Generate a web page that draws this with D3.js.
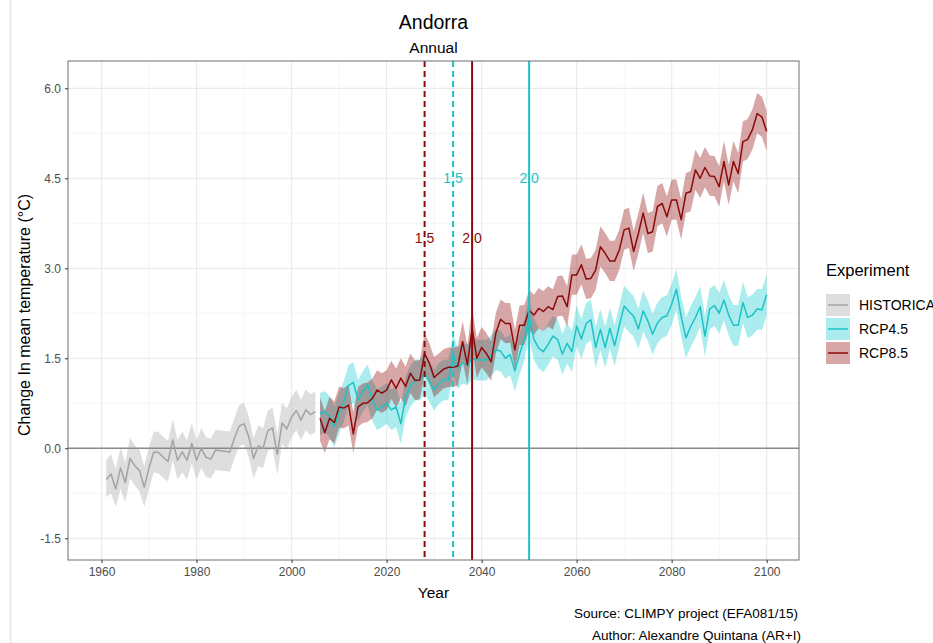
<!DOCTYPE html>
<html><head><meta charset="utf-8">
<script src="https://cdn.jsdelivr.net/npm/d3@7"></script>
<style>body{margin:0;background:#fff;}svg{display:block;font-family:"Liberation Sans",Arial,Helvetica,sans-serif;}</style>
</head><body>
<svg id="c" width="933" height="643"></svg>
<script>
// ---------- DATA ----------
const histYears = d3.range(1961, 2006);
const histMean = [-0.52,-0.43,-0.68,-0.33,-0.57,-0.17,-0.29,-0.37,-0.65,-0.33,-0.06,-0.07,-0.15,-0.22,0.14,-0.20,-0.06,-0.20,0.08,-0.20,0.00,-0.15,-0.18,-0.03,-0.04,-0.05,-0.06,0.17,0.37,0.41,0.19,-0.17,0.04,0.00,0.29,0.34,-0.10,0.42,0.32,0.52,0.63,0.47,0.64,0.56,0.61];
const histLo = [-0.82,-0.75,-0.98,-0.68,-0.90,-0.50,-0.62,-0.72,-0.98,-0.68,-0.40,-0.42,-0.50,-0.55,-0.20,-0.52,-0.40,-0.52,-0.25,-0.52,-0.33,-0.48,-0.50,-0.36,-0.37,-0.38,-0.39,-0.16,0.03,0.07,-0.15,-0.50,-0.30,-0.33,-0.05,0.00,-0.44,0.08,-0.02,0.18,0.30,0.14,0.30,0.22,0.27];
const histHi = [-0.20,-0.10,-0.35,0.02,-0.24,0.18,0.05,-0.03,-0.30,0.02,0.28,0.27,0.19,0.12,0.48,0.14,0.28,0.14,0.42,0.14,0.34,0.19,0.16,0.31,0.30,0.29,0.28,0.51,0.72,0.76,0.53,0.17,0.38,0.34,0.63,0.68,0.24,0.76,0.66,0.86,0.97,0.81,0.98,0.90,0.95];

const rcpYears = d3.range(2006, 2101);
const rcp45Mean = [0.58,0.61,0.53,0.36,0.58,0.78,1.05,1.10,0.80,0.95,
  1.06,0.80,0.64,0.69,0.75,0.64,0.69,0.41,0.86,1.03,
  1.14,1.14,1.25,1.11,0.97,1.08,1.14,1.14,1.56,1.33,
  1.42,1.39,1.50,1.47,1.47,1.47,1.55,1.64,1.62,1.50,
  1.56,1.29,1.57,1.82,2.18,1.82,1.67,1.61,1.73,1.87,
  1.81,1.57,1.75,1.61,2.04,1.82,2.08,2.14,1.68,1.98,
  1.68,2.00,1.71,2.05,2.37,2.28,2.20,1.99,2.29,2.12,
  1.90,2.09,2.18,2.21,2.40,2.65,2.20,1.84,2.03,2.18,
  2.36,1.87,2.32,2.38,2.25,2.47,2.22,2.05,2.05,2.43,
  2.18,2.22,2.32,2.31,2.56];
const rcp45Lo = [0.22,0.27,0.19,0.02,0.24,0.44,0.71,0.76,0.46,0.61,
  0.72,0.46,0.30,0.35,0.41,0.30,0.35,0.07,0.52,0.69,
  0.80,0.80,0.91,0.77,0.63,0.74,0.80,0.80,1.22,0.99,
  1.08,1.05,1.16,1.13,1.13,1.13,1.21,1.30,1.28,1.16,
  1.22,0.95,1.23,1.48,1.84,1.48,1.33,1.27,1.39,1.53,
  1.47,1.23,1.41,1.27,1.70,1.48,1.74,1.80,1.34,1.64,
  1.34,1.66,1.37,1.71,2.03,1.94,1.86,1.65,1.95,1.78,
  1.56,1.75,1.84,1.87,2.06,2.31,1.86,1.50,1.69,1.84,
  2.02,1.53,1.98,2.04,1.91,2.13,1.88,1.71,1.71,2.09,
  1.84,1.88,1.98,1.97,2.22];
const rcp45Hi = [0.92,0.95,0.87,0.70,0.92,1.12,1.39,1.44,1.14,1.29,
  1.40,1.14,0.98,1.03,1.09,0.98,1.03,0.75,1.20,1.37,
  1.48,1.48,1.59,1.45,1.31,1.42,1.48,1.48,1.90,1.67,
  1.76,1.73,1.84,1.81,1.81,1.81,1.89,1.98,1.96,1.84,
  1.90,1.63,1.91,2.16,2.52,2.16,2.01,1.95,2.07,2.21,
  2.15,1.91,2.09,1.95,2.38,2.16,2.42,2.48,2.02,2.32,
  2.02,2.34,2.05,2.39,2.71,2.62,2.54,2.33,2.63,2.46,
  2.24,2.43,2.52,2.55,2.74,2.99,2.54,2.18,2.37,2.52,
  2.70,2.21,2.66,2.72,2.59,2.81,2.56,2.39,2.39,2.77,
  2.52,2.56,2.66,2.65,2.90];

const rcp85Mean = [0.50,0.26,0.50,0.43,0.69,0.67,0.72,0.24,0.69,0.75,
  0.76,0.83,0.97,0.92,0.97,1.14,1.00,1.17,1.03,1.25,
  1.13,1.14,1.58,1.42,1.18,1.25,1.32,1.35,1.35,1.37,
  1.78,1.39,2.00,1.50,1.68,1.58,1.44,1.92,2.15,2.08,
  2.08,1.64,2.05,2.05,2.30,2.22,2.33,2.28,2.36,2.31,
  2.53,2.54,2.36,2.89,2.89,3.06,2.82,2.83,2.97,3.36,
  3.25,3.12,3.12,3.31,3.64,3.67,3.28,3.58,3.92,3.58,
  3.61,4.03,4.08,3.86,4.14,4.14,3.81,4.25,4.28,4.64,
  4.50,4.68,4.54,4.53,4.36,4.78,4.39,4.78,4.58,5.11,
  5.15,5.31,5.58,5.52,5.28];
const rcp85Lo = [0.12,-0.08,0.15,0.08,0.35,0.33,0.38,-0.08,0.36,0.42,
  0.44,0.50,0.64,0.59,0.64,0.82,0.68,0.84,0.70,0.92,
  0.80,0.82,1.24,1.08,0.85,0.92,1.00,1.02,1.03,1.04,
  1.45,1.06,1.66,1.17,1.35,1.25,1.12,1.58,1.82,1.75,
  1.76,1.31,1.72,1.72,1.97,1.89,2.00,1.95,2.03,1.98,
  2.20,2.21,2.03,2.56,2.56,2.73,2.49,2.50,2.64,3.03,
  2.92,2.79,2.79,2.98,3.31,3.34,2.95,3.25,3.59,3.25,
  3.28,3.70,3.75,3.53,3.81,3.81,3.48,3.92,3.95,4.31,
  4.17,4.35,4.21,4.20,4.03,4.45,4.06,4.45,4.25,4.78,
  4.82,4.98,5.25,5.19,4.95];
const rcp85Hi = [0.85,0.62,0.86,0.78,1.03,1.00,1.06,0.60,1.02,1.08,
  1.10,1.16,1.30,1.25,1.30,1.46,1.33,1.50,1.36,1.58,
  1.46,1.47,1.92,1.75,1.52,1.58,1.65,1.68,1.68,1.70,
  2.12,1.72,2.34,1.84,2.02,1.92,1.78,2.26,2.48,2.42,
  2.42,1.98,2.38,2.39,2.64,2.56,2.67,2.62,2.70,2.65,
  2.87,2.88,2.70,3.23,3.23,3.40,3.16,3.17,3.31,3.70,
  3.59,3.46,3.46,3.65,3.98,4.01,3.62,3.92,4.26,3.92,
  3.95,4.37,4.42,4.20,4.48,4.48,4.15,4.59,4.62,4.98,
  4.84,5.02,4.88,4.87,4.70,5.12,4.73,5.12,4.92,5.45,
  5.49,5.65,5.92,5.86,5.62];

const xTicks = [1960, 1980, 2000, 2020, 2040, 2060, 2080, 2100];
const yTicks = [-1.5, 0.0, 1.5, 3.0, 4.5, 6.0];
const thresholdYears = [2028, 2038, 2034, 2050];
const thresholdLabels = ["1.5", "2.0", "1.5", "2.0"];
const thresholdSeries = ["RCP8.5", "RCP8.5", "RCP4.5", "RCP4.5"];
const legendNames = ["HISTORICAL", "RCP4.5", "RCP8.5"];

// ---------- STYLE ----------
const lineCol = {"HISTORICAL": "#a3a3a3", "RCP4.5": "#1cc3c6", "RCP8.5": "#8b0a0a"};
const fillCol = {"HISTORICAL": "#bdbdbd", "RCP4.5": "#16cdd0", "RCP8.5": "#8b0000"};
const fillOp = {"HISTORICAL": 0.5, "RCP4.5": 0.36, "RCP8.5": 0.35};
const labelY = {"RCP8.5": 3.5, "RCP4.5": 4.5};
const FONT = "Liberation Sans, Arial, Helvetica, sans-serif";

const svg = d3.select("#c");
const L = 68, R = 799, T = 61, B = 560;
const x = d3.scaleLinear().domain([1952.95, 2106.8]).range([L, R]);
const y = d3.scaleLinear().domain([-1.862, 6.455]).range([B, T]);

// faint outer frame line on left
svg.append("line").attr("x1", 10.5).attr("x2", 10.5).attr("y1", 0).attr("y2", 643)
  .attr("stroke", "#e3e3e3").attr("stroke-width", 1.5);

// panel background
svg.append("rect").attr("x", L).attr("y", T).attr("width", R - L).attr("height", B - T).attr("fill", "#fff");

// grid
const g = svg.append("g");
const minorX = d3.range(1970, 2101, 20);
const minorY = [-0.75, 0.75, 2.25, 3.75, 5.25];
g.selectAll(".mx").data(minorX).enter().append("line")
  .attr("x1", d => x(d)).attr("x2", d => x(d)).attr("y1", T).attr("y2", B)
  .attr("stroke", "#f2f2f2").attr("stroke-width", 0.8);
g.selectAll(".my").data(minorY).enter().append("line")
  .attr("x1", L).attr("x2", R).attr("y1", d => y(d)).attr("y2", d => y(d))
  .attr("stroke", "#f2f2f2").attr("stroke-width", 0.8);
g.selectAll(".Mx").data(xTicks).enter().append("line")
  .attr("x1", d => x(d)).attr("x2", d => x(d)).attr("y1", T).attr("y2", B)
  .attr("stroke", "#ebebeb").attr("stroke-width", 1.2);
g.selectAll(".My").data(yTicks).enter().append("line")
  .attr("x1", L).attr("x2", R).attr("y1", d => y(d)).attr("y2", d => y(d))
  .attr("stroke", "#ebebeb").attr("stroke-width", 1.2);

// series
const series = [
  {name: "HISTORICAL", years: histYears, mean: histMean, lo: histLo, hi: histHi},
  {name: "RCP4.5", years: rcpYears, mean: rcp45Mean, lo: rcp45Lo, hi: rcp45Hi},
  {name: "RCP8.5", years: rcpYears, mean: rcp85Mean, lo: rcp85Lo, hi: rcp85Hi}
];
const area = d3.area().x(d => x(d.year)).y0(d => y(d.lo)).y1(d => y(d.hi));
const line = d3.line().x(d => x(d.year)).y(d => y(d.v));
const rows = s => s.years.map((yr, i) => ({year: yr, v: s.mean[i], lo: s.lo[i], hi: s.hi[i]}));

series.forEach(s => {
  svg.append("path").datum(rows(s)).attr("d", area)
    .attr("fill", fillCol[s.name]).attr("fill-opacity", fillOp[s.name]);
});
// zero line
svg.append("line").attr("x1", L).attr("x2", R).attr("y1", y(0)).attr("y2", y(0))
  .attr("stroke", "#8a8a8a").attr("stroke-width", 1.5);
series.forEach(s => {
  svg.append("path").datum(rows(s)).attr("d", line)
    .attr("fill", "none").attr("stroke", lineCol[s.name]).attr("stroke-width", 1.5)
    .attr("stroke-linejoin", "round");
});

// threshold labels and lines
thresholdYears.forEach((yr, i) => {
  const s = thresholdSeries[i];
  svg.append("text").attr("x", x(yr)).attr("y", y(labelY[s]))
    .attr("text-anchor", "middle").attr("dominant-baseline", "central")
    .attr("font-size", 14).attr("fill", lineCol[s]).text(thresholdLabels[i]);
});
thresholdYears.forEach((yr, i) => {
  const s = thresholdSeries[i];
  const dashed = thresholdLabels[i] === "1.5";
  svg.append("line").attr("x1", x(yr)).attr("x2", x(yr)).attr("y1", T).attr("y2", B)
    .attr("stroke", lineCol[s]).attr("stroke-width", 2)
    .attr("stroke-dasharray", dashed ? "6,4" : null);
});

// panel border
svg.append("rect").attr("x", L).attr("y", T).attr("width", R - L).attr("height", B - T)
  .attr("fill", "none").attr("stroke", "#6e6e6e").attr("stroke-width", 1);

// axes
const fmtY = d => d3.format(".1f")(d).replace("\u2212", "-");
const xAxis = d3.axisBottom(x).tickValues(xTicks).tickFormat(d3.format("d")).tickSize(3).tickPadding(4);
const yAxis = d3.axisLeft(y).tickValues(yTicks).tickFormat(fmtY).tickSize(3).tickPadding(4);
const gx = svg.append("g").attr("transform", `translate(0,${B})`).call(xAxis);
const gy = svg.append("g").attr("transform", `translate(${L},0)`).call(yAxis);
[gx, gy].forEach(ax => {
  ax.select(".domain").remove();
  ax.selectAll(".tick line").attr("stroke", "#333").attr("stroke-width", 1);
  ax.selectAll(".tick text").attr("fill", "#4d4d4d").attr("font-size", 12)
    .attr("font-family", FONT);
});

// titles
svg.append("text").attr("x", (L + R) / 2).attr("y", 29).attr("text-anchor", "middle")
  .attr("font-size", 19.5).attr("fill", "#000").text("Andorra");
svg.append("text").attr("x", (L + R) / 2).attr("y", 53).attr("text-anchor", "middle")
  .attr("font-size", 15.5).attr("fill", "#000").text("Annual");
svg.append("text").attr("x", (L + R) / 2).attr("y", 598).attr("text-anchor", "middle")
  .attr("font-size", 15.5).attr("fill", "#000").text("Year");
svg.append("text").attr("transform", `translate(30,315) rotate(-90)`)
  .attr("text-anchor", "middle").attr("font-size", 16).attr("fill", "#000")
  .text("Change In mean temperature (°C)");

// caption
svg.append("text").attr("x", 798).attr("y", 618).attr("text-anchor", "end")
  .attr("font-size", 13.5).attr("fill", "#000").text("Source: CLIMPY project (EFA081/15)");
svg.append("text").attr("x", 801).attr("y", 640).attr("text-anchor", "end")
  .attr("font-size", 13.5).attr("fill", "#000").text("Author: Alexandre Quintana (AR+I)");

// legend
const lg = svg.append("g");
lg.append("text").attr("x", 826).attr("y", 276).attr("font-size", 16.5).attr("fill", "#000").text("Experiment");
legendNames.forEach((n, i) => {
  const ky = 294 + i * 24;
  lg.append("rect").attr("x", 826).attr("y", ky).attr("width", 24).attr("height", 22)
    .attr("fill", fillCol[n]).attr("fill-opacity", fillOp[n]);
  lg.append("line").attr("x1", 828).attr("x2", 848).attr("y1", ky + 11).attr("y2", ky + 11)
    .attr("stroke", lineCol[n]).attr("stroke-width", 1.5);
  lg.append("text").attr("x", 859).attr("y", ky + 11).attr("dominant-baseline", "central")
    .attr("font-size", 14).attr("fill", "#000").text(n);
});
</script>
</body></html>
